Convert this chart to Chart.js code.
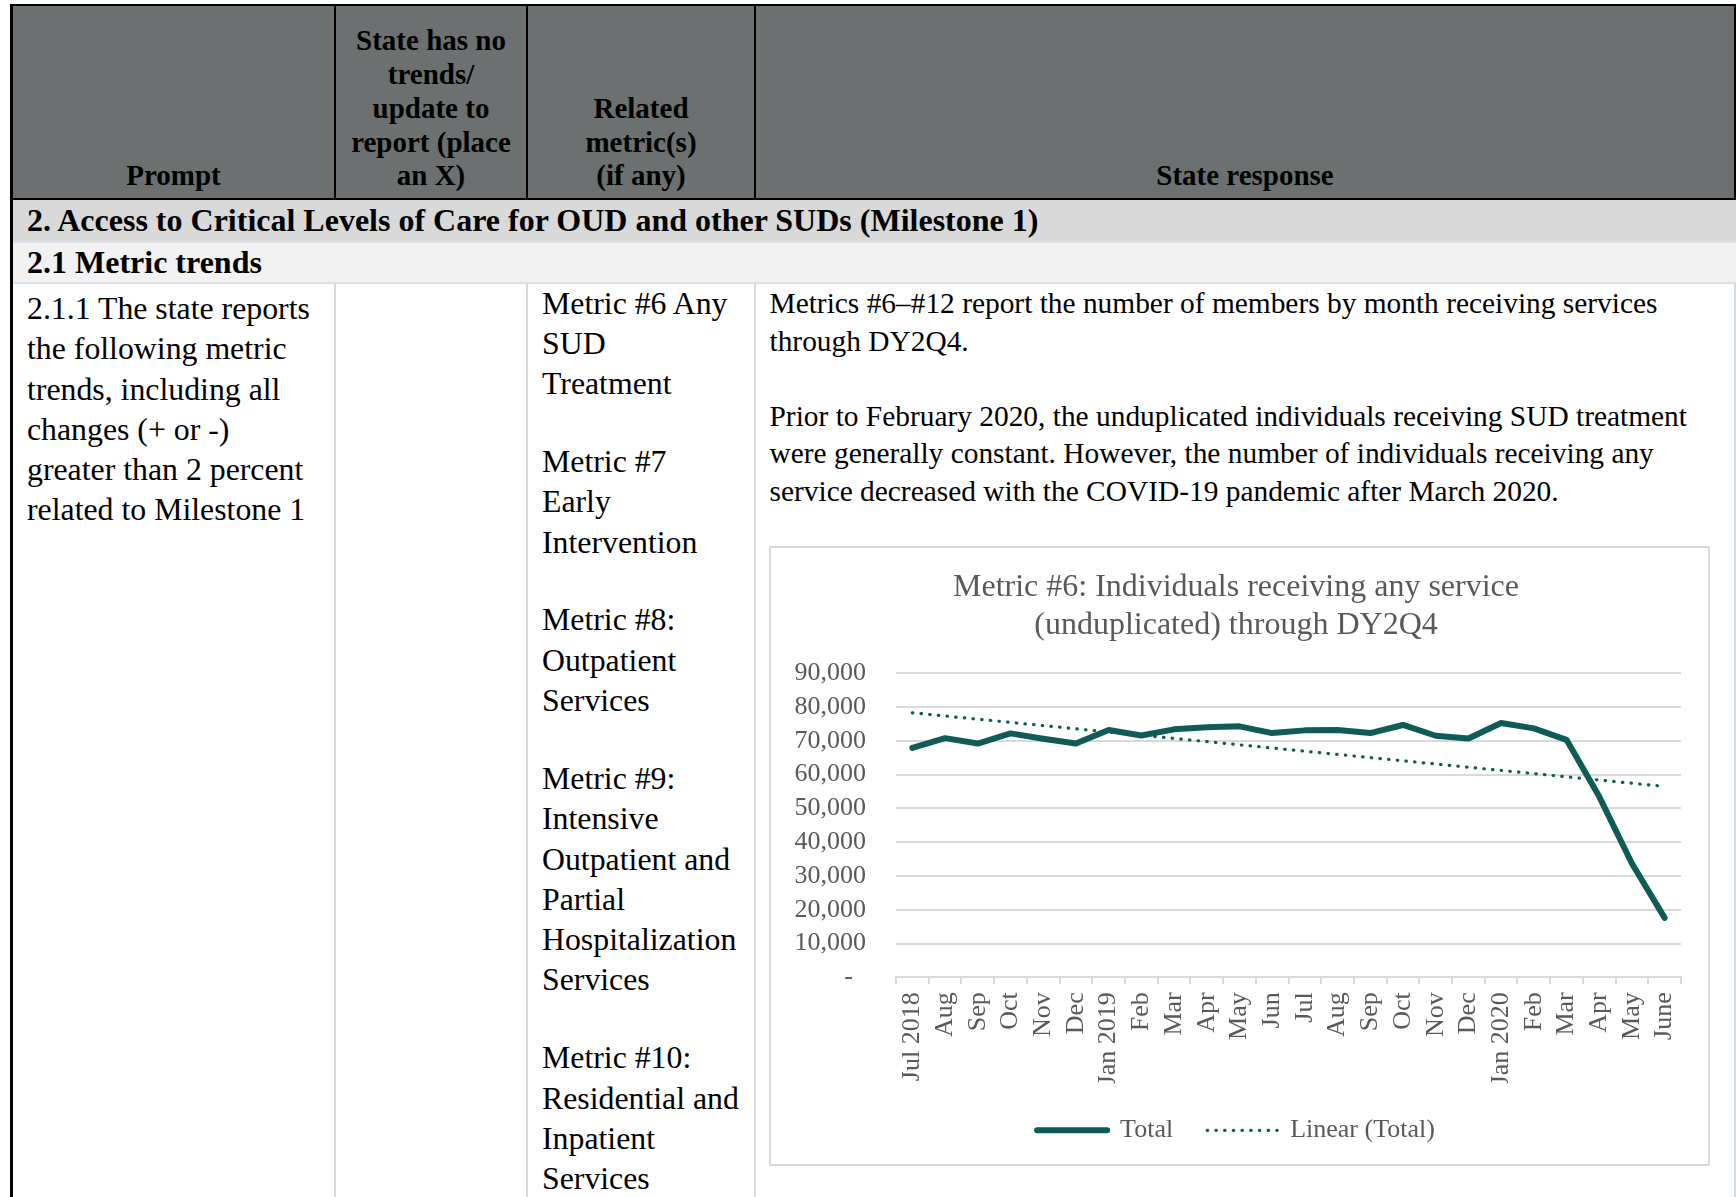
<!DOCTYPE html>
<html>
<head>
<meta charset="utf-8">
<title>2.1 Metric trends</title>
<script src="https://cdn.jsdelivr.net/npm/chart.js@4.4.1/dist/chart.umd.min.js"></script>
<style>
  html, body { margin: 0; padding: 0; background: #fff; overflow: hidden; }
  body { width: 1736px; height: 1197px; position: relative; font-family: "Liberation Serif", "Times New Roman", serif; color: #000; }
  .box { position: absolute; }
  .hdr-bg { left: 11px; top: 4px; width: 1723px; height: 192px; background: #6c7070; border: 2px solid #000; border-left: none; }
  .vline-dark { top: 4px; width: 2px; height: 196px; background: #000; }
  .vline-light { top: 284px; width: 2px; height: 913px; background: #d6dadf; }
  .hdr-cell { top: 6px; height: 187px; padding-bottom: 5px; display: flex; flex-direction: column; justify-content: flex-end; text-align: center; font-weight: bold; font-size: 29px; line-height: 33.75px; white-space: nowrap; }
  .band { left: 13px; width: 1723px; font-weight: bold; font-size: 32px; white-space: nowrap; box-sizing: border-box; padding-left: 14px; }
  .sep { left: 13px; width: 1723px; height: 2px; background: #dde1e6; }
  .txt { white-space: nowrap; }
  .col1 { left: 27px; top: 289px; font-size: 31.8px; line-height: 40.3px; }
  .col3 { left: 542px; top: 283.5px; font-size: 31.8px; line-height: 40.3px; }
  .col3 p { margin: 0 0 37.6px 0; }
  .col4 { left: 769.5px; top: 285px; font-size: 29.4px; line-height: 37.6px; }
  .col4 p { margin: 0 0 37.6px 0; }
  #chartBox { left: 769px; top: 546px; width: 937px; height: 616px; border: 2px solid #d9d9d9; background: #fff; }
</style>
</head>
<body>

<div class="box hdr-bg"></div>
<div class="box vline-dark" style="left:334px"></div>
<div class="box vline-dark" style="left:526px"></div>
<div class="box vline-dark" style="left:754px"></div>

<div class="box hdr-cell" style="left:13px; width:321px">Prompt</div>
<div class="box hdr-cell" style="left:336px; width:190px">State has no<br>trends/<br>update to<br>report (place<br>an X)</div>
<div class="box hdr-cell" style="left:528px; width:226px">Related<br>metric(s)<br>(if any)</div>
<div class="box hdr-cell" style="left:756px; width:978px">State response</div>

<div class="box band" style="top:200px; height:41px; line-height:41px; background:#d9d9d9">2. Access to Critical Levels of Care for OUD and other SUDs (Milestone 1)</div>
<div class="box sep" style="top:241px"></div>
<div class="box band" style="top:243px; height:39px; line-height:39px; background:#f2f2f2">2.1 Metric trends</div>
<div class="box sep" style="top:282px"></div>

<div class="box" style="left:10px; top:4px; width:3px; height:1193px; background:#000"></div>
<div class="box vline-light" style="left:334px"></div>
<div class="box vline-light" style="left:526px"></div>
<div class="box vline-light" style="left:754px"></div>
<div class="box vline-light" style="left:1734px"></div>

<div class="box txt col1">2.1.1 The state reports<br>the following metric<br>trends, including all<br>changes (+ or -)<br>greater than 2 percent<br>related to Milestone 1</div>

<div class="box txt col3">
  <p>Metric #6 Any<br>SUD<br>Treatment</p>
  <p>Metric #7<br>Early<br>Intervention</p>
  <p>Metric #8:<br>Outpatient<br>Services</p>
  <p>Metric #9:<br>Intensive<br>Outpatient and<br>Partial<br>Hospitalization<br>Services</p>
  <p>Metric #10:<br>Residential and<br>Inpatient<br>Services</p>
</div>

<div class="box txt col4">
  <p>Metrics #6–#12 report the number of members by month receiving services<br>through DY2Q4.</p>
  <p>Prior to February 2020, the unduplicated individuals receiving SUD treatment<br>were generally constant. However, the number of individuals receiving any<br>service decreased with the COVID-19 pandemic after March 2020.</p>
</div>

<div class="box" id="chartBox"><canvas id="metricChart"></canvas></div>

<script>
const months = ['Jul 2018', 'Aug', 'Sep', 'Oct', 'Nov', 'Dec', 'Jan 2019', 'Feb', 'Mar', 'Apr', 'May', 'Jun',
    'Jul', 'Aug', 'Sep', 'Oct', 'Nov', 'Dec', 'Jan 2020', 'Feb', 'Mar', 'Apr', 'May', 'June'];

const totalServed = [67900, 70800, 69200, 72200, 70600, 69200, 73200, 71600, 73400, 74000, 74300, 72300,
    73100, 73200, 72300, 74700, 71500, 70700, 75300, 73700, 70300, 53500, 33700, 17600];

const linearStart = 78300;
const linearEnd = 56500;

const yTicks = [0, 10000, 20000, 30000, 40000, 50000, 60000, 70000, 80000, 90000];

const linearTotal = months.map(function(m, i) {
    if (i === 0) return linearStart;
    if (i === months.length - 1) return linearEnd;
    return null;
});

const serif = '"Liberation Serif", "Times New Roman", serif';
const grey = '#595959';
const teal = '#0f5b57';
const gridGrey = '#d9d9d9';

const ctx = document.getElementById('metricChart').getContext('2d');
let metricChart = new Chart(ctx, {
    type: 'line',
    data: {
        labels: months,
        datasets: [{
            label: 'Total',
            data: totalServed,
            borderColor: teal,
            backgroundColor: teal,
            borderWidth: 6,
            borderJoinStyle: 'round',
            borderCapStyle: 'round',
            pointRadius: 0,
            tension: 0
        }, {
            label: 'Linear (Total)',
            data: linearTotal,
            borderColor: teal,
            backgroundColor: teal,
            borderWidth: 3.2,
            borderDash: [0.5, 8.2],
            borderCapStyle: 'round',
            pointRadius: 0,
            spanGaps: true
        }]
    },
    options: {
        responsive: true,
        maintainAspectRatio: false,
        animation: false,
        layout: {
            padding: { top: 0, left: 20, right: 27, bottom: 10.7 }
        },
        plugins: {
            title: {
                display: true,
                text: ['Metric #6: Individuals receiving any service', '(unduplicated) through DY2Q4'],
                color: grey,
                font: { family: serif, size: 32, weight: 'normal', lineHeight: 1.17 },
                padding: { top: 21, bottom: 29.4 }
            },
            legend: {
                position: 'bottom',
                labels: {
                    color: grey,
                    font: { family: serif, size: 26 },
                    usePointStyle: true,
                    pointStyle: 'line',
                    pointStyleWidth: 70,
                    padding: 34,
                    generateLabels: function(chart) {
                        const items = Chart.defaults.plugins.legend.labels.generateLabels(chart);
                        items.forEach(function(item) {
                            const ds = chart.data.datasets[item.datasetIndex];
                            item.lineWidth = ds.borderWidth;
                            item.lineDash = ds.borderDash || [];
                            item.lineCap = ds.borderCapStyle;
                            item.strokeStyle = ds.borderColor;
                        });
                        return items;
                    }
                }
            },
            tooltip: { enabled: false }
        },
        scales: {
            x: {
                offset: true,
                grid: {
                    offset: true,
                    drawOnChartArea: false,
                    drawTicks: true,
                    tickLength: 7,
                    color: gridGrey,
                    lineWidth: 2
                },
                border: { color: gridGrey, width: 2 },
                ticks: {
                    color: grey,
                    font: { family: serif, size: 26 },
                    minRotation: 90,
                    maxRotation: 90,
                    autoSkip: false,
                    padding: 8
                },
                afterFit: function(scale) { scale.height = 106; }
            },
            y: {
                min: yTicks[0],
                max: yTicks[yTicks.length - 1],
                afterBuildTicks: function(scale) {
                    scale.ticks = yTicks.map(function(v) { return { value: v }; });
                },
                ticks: {
                    autoSkip: false,
                    color: grey,
                    font: { family: serif, size: 26 },
                    padding: 30,
                    callback: function(value) {
                        return value === 0 ? '-  ' : value.toLocaleString('en-US');
                    }
                },
                grid: { color: gridGrey, lineWidth: 2, drawTicks: false },
                border: { display: false },
                afterFit: function(scale) { scale.width = 105; }
            }
        }
    }
});
</script>
</body>
</html>
